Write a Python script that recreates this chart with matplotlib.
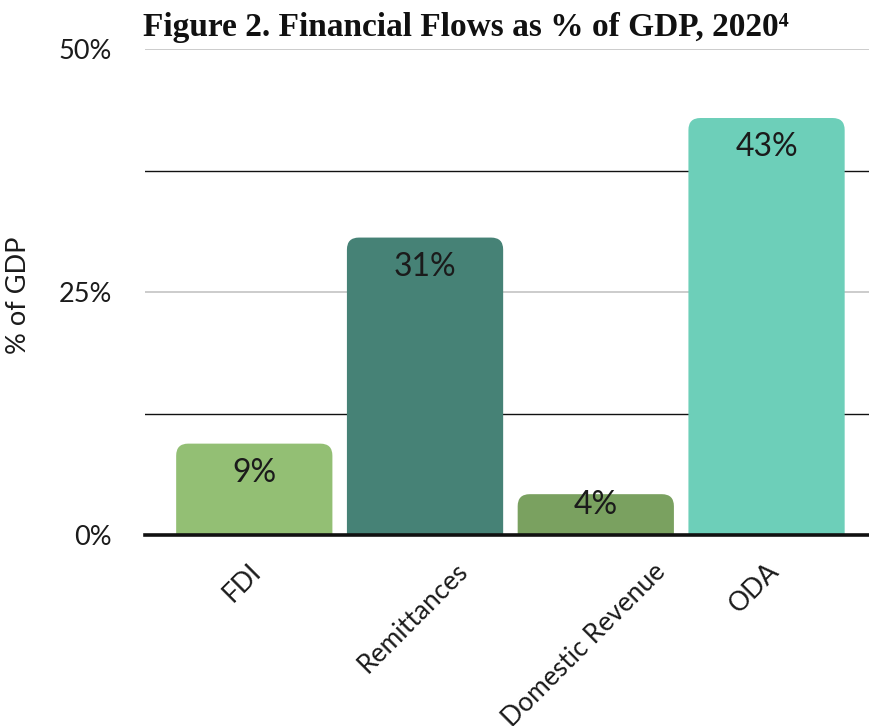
import matplotlib
matplotlib.use("Agg")
import matplotlib.pyplot as plt
from matplotlib.patches import FancyBboxPatch
from matplotlib.transforms import ScaledTranslation

# Data
categories = ["FDI", "Remittances", "Domestic Revenue", "ODA"]
values = [9.4, 30.6, 4.2, 42.9]
colors = ["#93bf74", "#468276", "#7aa160", "#6dcfb9"]
yticks = [0, 25, 50]
ytick_labels = ["0%", "25%", "50%"]
title = "Figure 2. Financial Flows as % of GDP, 2020\u2074"
ylabel = "% of GDP"

W, H = 869, 726
fig = plt.figure(figsize=(W / 100, H / 100), dpi=100)
ax = fig.add_axes([145 / W, (H - 535) / H, 1 - 145 / W, (535 - 49) / H])

sans = ["Lato", "DejaVu Sans"]
ink = "#1b1b1b"

ax.set_xlim(-0.64, 3.6)
ax.set_ylim(0, 50)

# Grid: light lines at the labelled ticks, dark lines half-way between
for y in yticks[1:]:
    ax.axhline(y, color="#c4c4c4", lw=1.2, zorder=0)
for y in [12.5, 37.5]:
    ax.axhline(y, color="#111111", lw=1.0, zorder=0)
ax.axhline(0, color="#111111", lw=2.6, zorder=5, clip_on=False)

# Bars with rounded tops
bar_width = 0.915
bars = ax.bar(range(len(categories)), values, width=bar_width, color=colors)
px_x = ax.get_window_extent().width / (ax.get_xlim()[1] - ax.get_xlim()[0])
px_y = ax.get_window_extent().height / (ax.get_ylim()[1] - ax.get_ylim()[0])
radius = 12 / px_x
for rect, c in zip(bars, colors):
    x0, w, h = rect.get_x(), rect.get_width(), rect.get_height()
    rect.remove()
    patch = FancyBboxPatch((x0, -5), w, h + 5,
                           boxstyle=f"round,pad=0,rounding_size={radius}",
                           mutation_aspect=px_x / px_y,
                           facecolor=c, edgecolor="none", zorder=2)
    ax.add_patch(patch)

# Value labels inside the bars
for i, v in enumerate(values):
    ax.text(i, max(v - 3.0, 3.1), f"{v:.0f}%", ha="center", va="center",
            fontsize=23, color=ink, family=sans, fontweight="normal", zorder=6)

# Axes styling
for s in ax.spines.values():
    s.set_visible(False)
ax.set_yticks(yticks)
ax.set_yticklabels(ytick_labels, family=sans, fontsize=19.5, color=ink, fontweight="normal")
ax.tick_params(axis="y", length=0, pad=24)
ax.set_xticks(range(len(categories)))
ax.set_xticklabels(categories, rotation=45, ha="center", va="top",
                   family=sans, fontsize=19, color=ink, fontweight="normal")
ax.tick_params(axis="x", length=0, pad=17)
shift = ScaledTranslation(-12 / 100, 0, fig.dpi_scale_trans)
for lbl in ax.get_xticklabels():
    lbl.set_transform(lbl.get_transform() + shift)

fig.text(19 / W, (H - 295) / H, ylabel, rotation=90, ha="center", va="center",
         family=sans, fontsize=19.5, color=ink, fontweight="normal")

fig.text(143 / W, (H - 36) / H, title, ha="left", va="baseline",
         family=["Liberation Serif", "DejaVu Serif"], fontweight="bold",
         fontsize=24, color="#111111")

fig.savefig("out.png", dpi=100)
